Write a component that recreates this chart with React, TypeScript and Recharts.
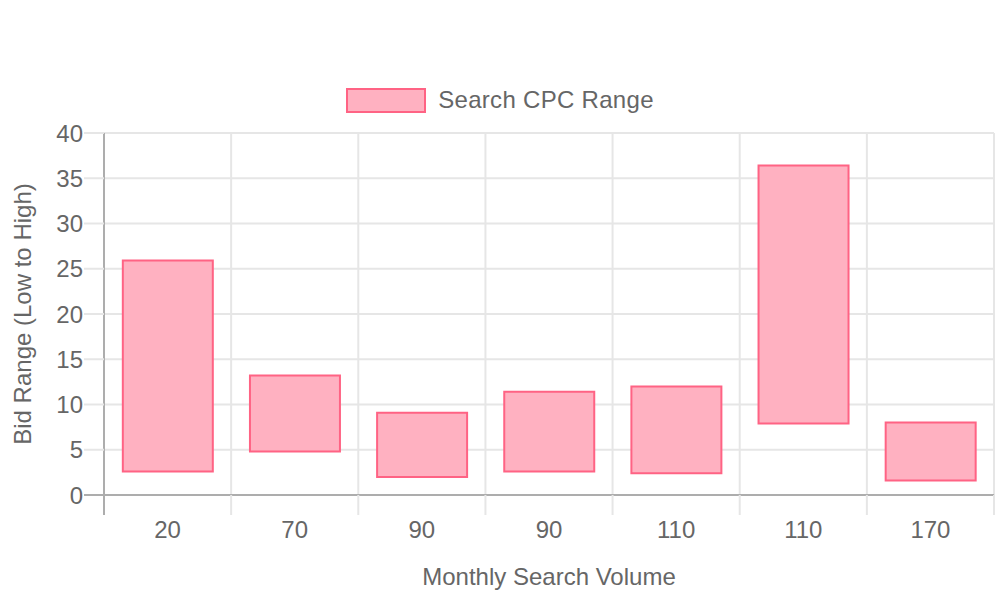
import React from "react";
import {
  BarChart,
  Bar,
  XAxis,
  YAxis,
  CartesianGrid,
  Legend,
} from "recharts";

// monthly search volume per keyword (x categories, duplicates allowed)
const volumes = ["20", "70", "90", "90", "110", "110", "170"];
// low / high CPC bid per keyword
const lowBids = [2.6, 4.8, 2.0, 2.6, 2.4, 7.9, 1.6];
const highBids = [25.9, 13.2, 9.1, 11.4, 12.0, 36.4, 8.0];
const yTicks = [0, 5, 10, 15, 20, 25, 30, 35, 40];

const seriesName = "Search CPC Range";
const xTitle = "Monthly Search Volume";
const yTitle = "Bid Range (Low to High)";

const data = volumes.map((v, i) => ({
  id: String(i),
  volume: v,
  range: [lowBids[i], highBids[i]],
}));

const FONT = '"Liberation Sans", Arial, Helvetica, sans-serif';
const TEXT = "#666";
const GRID = "#e6e6e6";
const AXIS = "#adadad";
const FILL = "#ffb1c1";
const BORDER = "rgb(255, 99, 132)";

const XTick = (props: any) => {
  const { x, y, index, width } = props;
  const band = (typeof width === "number" ? width : 890) / volumes.length;
  const axisY = y - 20;
  const left = x - band / 2;
  const right = x + band / 2;
  return (
    <g>
      <line
        x1={left}
        x2={left}
        y1={axisY}
        y2={axisY + 20}
        stroke={index === 0 ? AXIS : GRID}
        strokeWidth={2}
      />
      {index === volumes.length - 1 && (
        <line x1={right} x2={right} y1={axisY} y2={axisY + 20} stroke={GRID} strokeWidth={2} />
      )}
      <text
        x={x}
        y={axisY + 43}
        textAnchor="middle"
        fill={TEXT}
        fontSize={24}
        fontFamily={FONT}
      >
        {volumes[index]}
      </text>
    </g>
  );
};

const YTick = (props: any) => {
  const { x, y, payload } = props;
  return (
    <g>
      <line
        x1={x + 1}
        x2={x + 21}
        y1={y}
        y2={y}
        stroke={payload.value === 0 ? AXIS : GRID}
        strokeWidth={2}
      />
      <text
        x={x}
        y={y}
        textAnchor="end"
        dominantBaseline="central"
        fill={TEXT}
        fontSize={24}
        fontFamily={FONT}
      >
        {payload.value}
      </text>
    </g>
  );
};

const LegendBox = () => (
  <div
    style={{
      display: "flex",
      justifyContent: "center",
      alignItems: "center",
      fontFamily: FONT,
      fontSize: 24,
      color: TEXT,
    }}
  >
    <span
      style={{
        display: "inline-block",
        width: 76,
        height: 21,
        background: FILL,
        border: `2px solid ${BORDER}`,
      }}
    />
    <span style={{ marginLeft: 12, letterSpacing: 0.3 }}>{seriesName}</span>
  </div>
);

export default function App() {
  return (
    <div style={{ position: "absolute", left: 0, top: 0, width: 1000, height: 600, background: "#fff" }}>
      <BarChart
        width={1000}
        height={600}
        data={data}
        margin={{ top: 133, right: 6, bottom: 0, left: 0 }}
        barCategoryGap="14.8%"
      >
        <CartesianGrid
          stroke={GRID}
          strokeWidth={2}
          verticalCoordinatesGenerator={({ offset }: any) =>
            Array.from({ length: volumes.length + 1 }, (_, i) => offset.left + (i * offset.width) / volumes.length)
          }
        />
        <XAxis
          dataKey="id"
          type="category"
          tickLine={false}
          tickSize={20}
          tickMargin={0}
          axisLine={{ stroke: AXIS, strokeWidth: 2 }}
          tick={<XTick />}
          interval={0}
          height={105}
          label={({ viewBox }: any) => (
            <text
              x={viewBox.x + viewBox.width / 2}
              y={viewBox.y + 90}
              textAnchor="middle"
              fill={TEXT}
              fontSize={24}
              fontFamily={FONT}
            >
              {xTitle}
            </text>
          )}
        />
        <YAxis
          domain={[0, 40]}
          ticks={yTicks}
          width={104}
          tickLine={false}
          tickSize={20}
          tickMargin={1}
          axisLine={{ stroke: AXIS, strokeWidth: 2 }}
          tick={<YTick />}
          label={({ viewBox }: any) => {
            const cy = viewBox.y + viewBox.height / 2;
            return (
              <text
                x={31}
                y={cy}
                transform={`rotate(-90, 31, ${cy})`}
                textAnchor="middle"
                fill={TEXT}
                fontSize={24}
                fontFamily={FONT}
              >
                {yTitle}
              </text>
            );
          }}
        />
        <Legend
          layout="horizontal"
          verticalAlign="middle"
          align="center"
          wrapperStyle={{ top: 86, left: 0, width: 1000 }}
          content={<LegendBox />}
        />
        <Bar
          dataKey="range"
          name={seriesName}
          fill={FILL}
          stroke={BORDER}
          strokeWidth={2}
          isAnimationActive={false}
        />
      </BarChart>
    </div>
  );
}
